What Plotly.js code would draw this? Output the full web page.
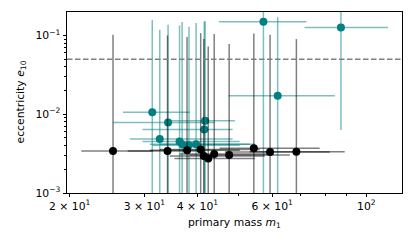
<!DOCTYPE html>
<html>
<head>
<meta charset="utf-8">
<script src="https://cdn.plot.ly/plotly-3.0.1.min.js"></script>
<style>html,body{margin:0;padding:0;background:#fff;}#chart{width:415px;height:249px;}</style>
</head>
<body>
<div id="chart"></div>
<script>
// Black (gray error bar) sources
const blackMass   = [25.3, 34.0, 37.8, 40.7, 41.4, 42.4, 43.8, 47.5, 54.3, 59.3, 68.4];
const blackEcc    = [0.00342, 0.00342, 0.00349, 0.00357, 0.00295, 0.00275, 0.00313, 0.00304, 0.00370, 0.00332, 0.00334];
const blackMassLo = [21.3, 27.4, 30.9, 32.6, 34.4, 35.3, 36.3, 38.4, 45.1, 46.4, 53.1];
const blackMassHi = [31.4, 41.7, 50.3, 56.1, 57.6, 54.6, 59.2, 66.0, 77.6, 82.0, 88.9];
const blackEccLo  = [0.0005, 0.0005, 0.0005, 0.0005, 0.0005, 0.0005, 0.0005, 0.0005, 0.0005, 0.0005, 0.0005];
const blackEccHi  = [0.102, 0.100, 0.0954, 0.107, 0.090, 0.0725, 0.104, 0.0777, 0.106, 0.102, 0.090];

// Teal sources
const tealMass   = [57.2, 61.8, 87.1, 31.3, 34.1, 32.6, 36.3, 36.8, 38.2, 39.7, 41.7, 41.5];
const tealEcc    = [0.149, 0.0171, 0.126, 0.0106, 0.00783, 0.00486, 0.00449, 0.00416, 0.00404, 0.00416, 0.00828, 0.00641];
const tealMassLo = [44.9, 47.3, 71.5, 26.7, 25.3, 27.7, 29.7, 30.9, 31.3, 32.6, 34.4, 29.7];
const tealMassHi = [72.2, 84.3, 112.4, 38.4, 43.9, 48.4, 50.3, 53.1, 50.3, 54.6, 49.0, 48.4];
const tealEccLo  = [0.0005, 0.0005, 0.0063, 0.0005, 0.0005, 0.0005, 0.0005, 0.0005, 0.0005, 0.0005, 0.0005, 0.0005];
const tealEccHi  = [0.3, 0.171, 0.3, 0.157, 0.137, 0.118, 0.134, 0.148, 0.129, 0.144, 0.151, 0.151];

const threshold = 0.05;

const xTickVals = [20, 30, 40, 60, 100];
const xTickText = ['2 × 10<sup>1</sup>', '3 × 10<sup>1</sup>', '4 × 10<sup>1</sup>', '6 × 10<sup>1</sup>', '10<sup>2</sup>'];
const xMinorVals = [50, 70, 80, 90];
const yTickVals = [0.001, 0.01, 0.1];
const yTickText = ['10<sup>−3</sup>', '10<sup>−2</sup>', '10<sup>−1</sup>'];
const yMinorVals = [0.002,0.003,0.004,0.005,0.006,0.007,0.008,0.009,0.02,0.03,0.04,0.05,0.06,0.07,0.08,0.09];
const xTitle = 'primary mass <i>m</i><sub>1</sub>';
const yTitle = 'eccentricity <i>e</i><sub>10</sub>';

function plus(v, hi) { return v.map((d, i) => hi[i] - d); }
function minus(v, lo) { return v.map((d, i) => d - lo[i]); }

function mk(x, y, xlo, xhi, ylo, yhi, color, barColor) {
  return {
    type: 'scatter', mode: 'markers', x: x, y: y,
    marker: {color: color, size: 8, line: {width: 0}},
    error_x: {type: 'data', symmetric: false, array: plus(x, xhi), arrayminus: minus(x, xlo),
              color: barColor, thickness: 1.5, width: 0},
    error_y: {type: 'data', symmetric: false, array: plus(y, yhi), arrayminus: minus(y, ylo),
              color: barColor, thickness: 1.5, width: 0},
    hoverinfo: 'skip', showlegend: false
  };
}

const data = [
  mk(tealMass, tealEcc, tealMassLo, tealMassHi, tealEccLo, tealEccHi, '#008080', 'rgba(0,128,128,0.5)'),
  mk(blackMass, blackEcc, blackMassLo, blackMassHi, blackEccLo, blackEccHi, '#000000', 'rgba(0,0,0,0.5)')
];

const W = 415, H = 249, L = 67, R = 13, T = 12, B = 56;
const pw = W - L - R, ph = H - T - B;
const font = {family: 'DejaVu Sans', size: 10.8, color: '#000'};
const layout = {
  width: W, height: H,
  margin: {l: L, r: R, t: T, b: B, pad: 0},
  paper_bgcolor: '#fff', plot_bgcolor: '#fff',
  font: font,
  xaxis: {
    type: 'log', range: [Math.log10(19.71), Math.log10(121.3)],
    tickmode: 'array', tickvals: xTickVals, ticktext: xTickText,
    ticks: 'outside', ticklen: 3, tickwidth: 1, tickcolor: '#000',
    showgrid: false, zeroline: false,
    showline: true, linecolor: '#000', linewidth: 1, mirror: true,
    minor: {tickmode: 'array', tickvals: xMinorVals, ticks: 'outside', ticklen: 2, tickwidth: 1, tickcolor: '#000', showgrid: false},
    tickfont: font,
    automargin: false
  },
  yaxis: {
    type: 'log', range: [-3, -0.7025],
    tickmode: 'array', tickvals: yTickVals, ticktext: yTickText,
    ticks: 'outside', ticklen: 3.5, tickwidth: 1, tickcolor: '#000',
    showgrid: false, zeroline: false,
    showline: true, linecolor: '#000', linewidth: 1, mirror: true,
    minor: {tickmode: 'array', tickvals: yMinorVals, ticks: 'outside', ticklen: 2, tickwidth: 1, tickcolor: '#000', showgrid: false},
    tickfont: font,
    automargin: false
  },
  annotations: [
    {text: xTitle, xref: 'paper', yref: 'paper', x: 0.5, y: -(223 - (T + ph)) / ph,
     xanchor: 'center', yanchor: 'middle', showarrow: false, font: font},
    {text: yTitle, xref: 'paper', yref: 'paper', x: (20 - L) / pw, y: 0.5, textangle: -90,
     xanchor: 'center', yanchor: 'middle', showarrow: false, font: font}
  ],
  shapes: [{
    type: 'line', xref: 'paper', x0: 0, x1: 1, yref: 'y', y0: threshold, y1: threshold,
    line: {color: '#808080', width: 1.5, dash: '5.5px,2.5px'}
  }]
};

Plotly.newPlot('chart', data, layout, {displayModeBar: false, staticPlot: true});
</script>
</body>
</html>
